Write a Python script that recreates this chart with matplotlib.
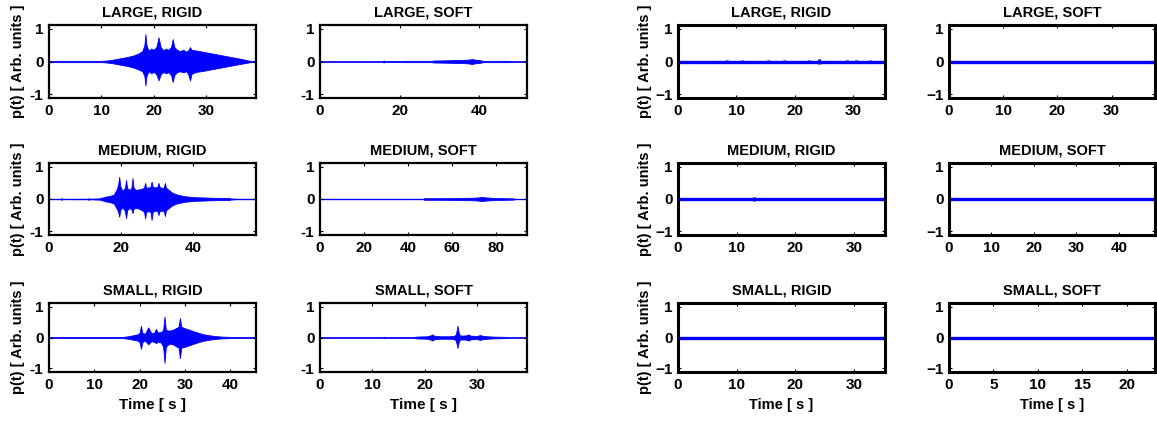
import matplotlib
matplotlib.use("Agg")
import matplotlib.pyplot as plt
from matplotlib.ticker import MultipleLocator

plt.rcParams['font.family'] = ['Liberation Sans', 'DejaVu Sans']

# ---------------- data (envelopes) ----------------
titles = ["LARGE, RIGID", "LARGE, SOFT", "MEDIUM, RIGID", "MEDIUM, SOFT",
          "SMALL, RIGID", "SMALL, SOFT"]
y_ticks = [-1, 0, 1]
left_ytick_labels = ["-1", "0", "1"]
right_ytick_labels = ["\u22121", "0", "1"]
ylabel_text = "p(t) [ Arb. units ]"
xlabel_text = "Time [ s ]"

# left group: durations (s) and x tick steps
left_xmax = [39.5, 52.0, 57.5, 94.0, 45.7, 39.6]
left_xstep = [10, 20, 20, 20, 10, 10]
# right group
right_xmax = [35.5, 38.0, 35.3, 48.5, 35.3, 23.2]
right_xstep = [10, 10, 10, 10, 10, 5]

# LEFT LARGE RIGID
lr_t = [0, 2, 4, 6, 8, 10, 11, 12, 13, 14, 15, 16, 17, 17.8, 18.2, 18.4, 18.6, 19.0, 19.5, 20.0, 20.5,
        20.9, 21.3, 21.8, 22.3, 22.8, 23.3, 23.6, 23.9, 24.4, 25.0, 25.6, 26.2, 26.6, 26.9, 27.2,
        28, 29, 30, 31, 32, 33, 34, 35, 36, 37, 37.7, 38.5, 39.5]
lr_up = [0.02, 0.02, 0.02, 0.02, 0.02, 0.02, 0.03, 0.05, 0.08, 0.11, 0.14, 0.18, 0.24, 0.32, 0.5, 0.84, 0.5,
         0.33, 0.4, 0.36, 0.45, 0.74, 0.45, 0.34, 0.4, 0.36, 0.45, 0.69, 0.45, 0.36, 0.32, 0.36, 0.3, 0.35,
         0.44, 0.36, 0.34, 0.31, 0.28, 0.25, 0.22, 0.19, 0.16, 0.13, 0.1, 0.07, 0.04, 0.02, 0.02]
lr_dn = [0.02, 0.02, 0.02, 0.02, 0.02, 0.02, 0.03, 0.05, 0.08, 0.11, 0.14, 0.18, 0.24, 0.3, 0.45, 0.73, 0.45,
         0.3, 0.36, 0.32, 0.4, 0.58, 0.4, 0.32, 0.36, 0.33, 0.42, 0.63, 0.42, 0.33, 0.3, 0.33, 0.3, 0.4,
         0.58, 0.38, 0.32, 0.3, 0.27, 0.24, 0.21, 0.18, 0.15, 0.12, 0.09, 0.06, 0.04, 0.02, 0.02]

# LEFT LARGE SOFT
ls_t = [0, 15.5, 16, 16.5, 17, 20, 21, 28, 28.5, 33, 36, 37.5, 38.1, 38.7, 40.2, 41, 47.7, 48.2, 52]
ls_up = [0.008, 0.008, 0.03, 0.008, 0.015, 0.015, 0.02, 0.02, 0.03, 0.04, 0.05, 0.06, 0.08, 0.06, 0.04,
         0.02, 0.02, 0.008, 0.008]
ls_dn = [0.008, 0.008, 0.03, 0.008, 0.015, 0.015, 0.02, 0.02, 0.03, 0.04, 0.05, 0.06, 0.08, 0.06, 0.04,
         0.02, 0.02, 0.008, 0.008]

# LEFT MEDIUM RIGID
mr_t = [0, 3.3, 3.5, 3.7, 8, 10.8, 11, 11.2, 14, 15, 16, 17, 18, 18.8, 19.2, 19.5, 19.8, 20.4, 21.1, 21.4,
        21.7, 22.3, 22.9, 23.2, 23.5, 24.2, 25, 25.8, 26.4, 26.7, 27.0, 27.6, 28.2, 28.5, 28.8, 29.5, 30.1,
        30.4, 30.7, 31.3, 31.9, 32.2, 32.5, 33.3, 34.2, 35.5, 37.5, 40, 42.5, 45, 49.5, 50, 50.3, 52, 57.5]
mr_up = [0.008, 0.008, 0.03, 0.008, 0.01, 0.01, 0.03, 0.01, 0.02, 0.05, 0.08, 0.1, 0.14, 0.3, 0.45, 0.69,
         0.4, 0.25, 0.35, 0.59, 0.35, 0.28, 0.35, 0.65, 0.35, 0.28, 0.3, 0.32, 0.35, 0.5, 0.35, 0.36, 0.38,
         0.54, 0.38, 0.36, 0.38, 0.5, 0.38, 0.34, 0.36, 0.5, 0.35, 0.28, 0.2, 0.14, 0.09, 0.06, 0.05, 0.04,
         0.03, 0.04, 0.02, 0.01, 0.008]
mr_dn = [0.008, 0.008, 0.03, 0.008, 0.01, 0.01, 0.03, 0.01, 0.02, 0.05, 0.08, 0.1, 0.14, 0.3, 0.4, 0.55,
         0.35, 0.25, 0.38, 0.6, 0.35, 0.28, 0.32, 0.44, 0.3, 0.28, 0.3, 0.35, 0.4, 0.6, 0.4, 0.38, 0.4,
         0.65, 0.4, 0.36, 0.38, 0.5, 0.38, 0.36, 0.38, 0.53, 0.35, 0.28, 0.2, 0.14, 0.09, 0.06, 0.05, 0.04,
         0.03, 0.04, 0.02, 0.01, 0.008]

# LEFT MEDIUM SOFT
ms_t = [0, 47, 47.3, 55, 62, 66, 70, 72, 73.5, 75, 78.8, 80, 84, 87.9, 88.5, 94]
ms_up = [0.008, 0.008, 0.025, 0.025, 0.03, 0.035, 0.04, 0.05, 0.065, 0.05, 0.035, 0.03, 0.025, 0.02,
         0.008, 0.008]
ms_dn = [0.008, 0.008, 0.025, 0.025, 0.03, 0.035, 0.04, 0.05, 0.065, 0.05, 0.035, 0.03, 0.025, 0.02,
         0.008, 0.008]

# LEFT SMALL RIGID
sr_t = [0, 2, 4, 6, 8, 10, 12, 14, 16, 17.5, 18.5, 19.5, 20.0, 20.3, 20.6, 21.2, 21.9, 22.6, 23.2, 23.6,
        24.0, 24.7, 25.2, 25.5, 25.8, 26.5, 27.3, 28.0, 28.6, 28.9, 29.2, 30, 31, 32, 33, 34, 35, 36.5, 38,
        40, 42, 45.7]
sr_up = [0.015, 0.015, 0.015, 0.015, 0.015, 0.015, 0.015, 0.015, 0.015, 0.04, 0.07, 0.1, 0.15, 0.38, 0.15,
         0.12, 0.33, 0.14, 0.15, 0.28, 0.16, 0.18, 0.25, 0.68, 0.25, 0.22, 0.25, 0.3, 0.35, 0.63, 0.35,
         0.3, 0.25, 0.2, 0.15, 0.11, 0.08, 0.05, 0.03, 0.02, 0.015, 0.01]
sr_dn = [0.015, 0.015, 0.015, 0.015, 0.015, 0.015, 0.015, 0.015, 0.015, 0.04, 0.07, 0.1, 0.15, 0.37, 0.15,
         0.1, 0.22, 0.12, 0.14, 0.18, 0.14, 0.16, 0.3, 0.82, 0.3, 0.2, 0.22, 0.28, 0.33, 0.67, 0.33,
         0.3, 0.25, 0.2, 0.15, 0.11, 0.08, 0.05, 0.03, 0.02, 0.015, 0.01]

# LEFT SMALL SOFT
ss_t = [0, 12.1, 12.3, 12.5, 17.8, 18.5, 20.5, 21.2, 21.5, 21.8, 23, 24.5, 25.6, 26.0, 26.3, 26.6, 27.0,
        28.0, 28.4, 28.8, 30, 30.6, 31.2, 33, 35.7, 36.2, 39.6]
ss_up = [0.008, 0.008, 0.025, 0.008, 0.015, 0.03, 0.04, 0.07, 0.1, 0.06, 0.04, 0.04, 0.05, 0.1, 0.38, 0.1,
         0.06, 0.07, 0.1, 0.06, 0.05, 0.08, 0.05, 0.03, 0.02, 0.008, 0.008]
ss_dn = [0.008, 0.008, 0.025, 0.008, 0.015, 0.03, 0.04, 0.07, 0.1, 0.06, 0.04, 0.04, 0.05, 0.1, 0.34, 0.1,
         0.06, 0.07, 0.1, 0.06, 0.05, 0.08, 0.05, 0.03, 0.02, 0.008, 0.008]

# RIGHT group: short bursts on a near-zero trace (time, amplitude)
r_lr_burst_t = [5.5, 8.4, 10.9, 13.2, 15.5, 18.1, 20.4, 22.4, 24.2, 26.9, 28.9, 30.6, 32.9]
r_lr_burst_a = [0.03, 0.035, 0.035, 0.03, 0.035, 0.035, 0.03, 0.035, 0.09, 0.03, 0.045, 0.035, 0.045]
r_ls_burst_t = [16.0, 19.5, 23.0]
r_ls_burst_a = [0.015, 0.015, 0.015]
r_mr_burst_t = [4.1, 7.2, 8.1, 10.6, 13.0, 15.2, 16.9, 19.2, 21.2, 23.2, 25.5, 28.1, 30.4, 31.8]
r_mr_burst_a = [0.04, 0.025, 0.025, 0.025, 0.05, 0.025, 0.03, 0.025, 0.025, 0.025, 0.025, 0.025, 0.03, 0.03]
r_ms_burst_t = []
r_ms_burst_a = []
r_sr_burst_t = [18.0, 21.0, 24.0, 27.0, 30.0]
r_sr_burst_a = [0.015, 0.015, 0.015, 0.015, 0.015]
r_ss_burst_t = []
r_ss_burst_a = []
r_trace_level = [0.0, 0.0]  # the trace value at the start and end of each record

left_env = [(lr_t, lr_up, lr_dn), (ls_t, ls_up, ls_dn), (mr_t, mr_up, mr_dn),
            (ms_t, ms_up, ms_dn), (sr_t, sr_up, sr_dn), (ss_t, ss_up, ss_dn)]
right_bursts = [(r_lr_burst_t, r_lr_burst_a), (r_ls_burst_t, r_ls_burst_a),
                (r_mr_burst_t, r_mr_burst_a), (r_ms_burst_t, r_ms_burst_a),
                (r_sr_burst_t, r_sr_burst_a), (r_ss_burst_t, r_ss_burst_a)]

# ---------------- layout ----------------
W, H = 1157, 421
fig = plt.figure(figsize=(W / 100, H / 100), dpi=100)
BLUE = "#0000ff"

rows_px = [(25, 98), (163, 235), (303, 372)]
left_cols_px = [(49, 256), (320, 527)]
right_cols_px = [(678, 885), (949, 1155)]


def make_ax(xpx, ypx):
    x0, x1 = xpx
    y0, y1 = ypx
    return fig.add_axes([x0 / W, 1 - y1 / H, (x1 - x0) / W, (y1 - y0) / H])


def style(ax, xmax, step, ylabels, lw, fs):
    ax.set_xlim(0, xmax)
    ax.set_ylim(-1.12, 1.12)
    ax.set_yticks(y_ticks)
    ax.set_yticklabels(ylabels)
    ax.xaxis.set_major_locator(MultipleLocator(step))
    for s in ax.spines.values():
        s.set_linewidth(lw)
    ax.tick_params(direction="in", length=2.5, width=0.8, top=True, right=True,
                   labelsize=fs, pad=4)
    for lab in ax.get_xticklabels() + ax.get_yticklabels():
        lab.set_fontweight("bold")


for i in range(6):
    r, c = divmod(i, 2)
    # left group
    ax = make_ax(left_cols_px[c], rows_px[r])
    t, up, dn = left_env[i]
    ax.fill_between(t, up, [-v for v in dn], color=BLUE, lw=0.6)
    style(ax, left_xmax[i], left_xstep[i], left_ytick_labels, 1.6, 11)
    ax.set_title(titles[i], fontsize=10.5, fontweight="bold", pad=6)
    if c == 0:
        ax.set_ylabel(ylabel_text, fontsize=10.5, fontweight="bold")
        ax.yaxis.set_label_coords(-0.115, 0.5)
    if r == 2:
        ax.set_xlabel(xlabel_text, fontsize=11, fontweight="bold")
        ax.xaxis.set_label_coords(0.5, -0.38)

    # right group
    ax = make_ax(right_cols_px[c], rows_px[r])
    bt, ba = right_bursts[i]
    ax.plot([0, right_xmax[i]], r_trace_level, color=BLUE, lw=2.4, solid_capstyle="butt")
    if bt:
        ax.vlines(bt, [-a for a in ba], ba, color=BLUE, lw=2.2)
    style(ax, right_xmax[i], right_xstep[i], right_ytick_labels, 2.2, 11)
    ax.set_title(titles[i], fontsize=10.5, fontweight="bold", pad=6)
    if c == 0:
        ax.set_ylabel(ylabel_text, fontsize=10.5, fontweight="bold")
        ax.yaxis.set_label_coords(-0.125, 0.5)
    if r == 2:
        ax.set_xlabel(xlabel_text, fontsize=10.5, fontweight="bold")
        ax.xaxis.set_label_coords(0.5, -0.38)

fig.savefig("out.png", dpi=100)
